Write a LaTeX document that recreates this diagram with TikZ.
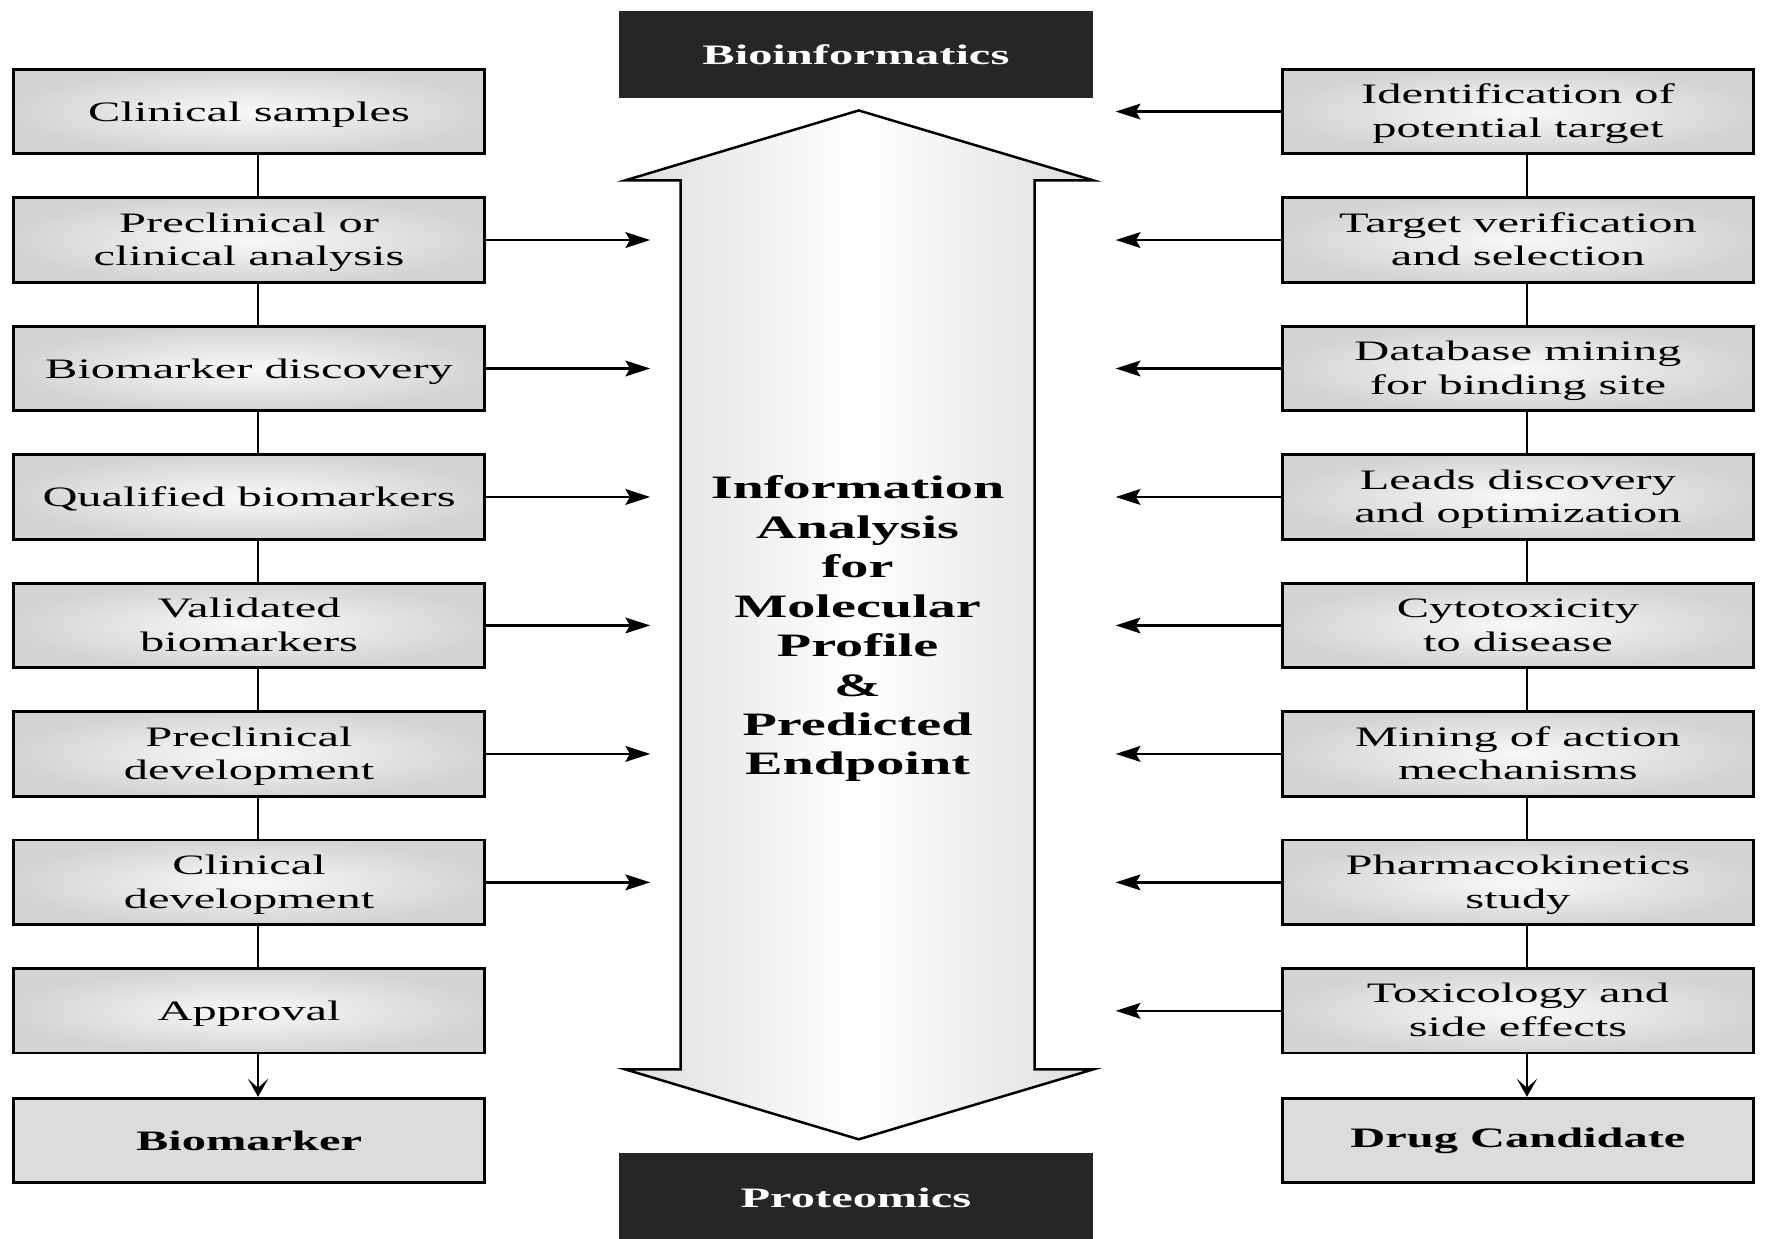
\documentclass[tikz,border=0pt]{standalone}
\usepackage{fontspec}
\setmainfont{Liberation Serif}[FakeStretch=1.72]
\usetikzlibrary{arrows.meta, positioning, calc}
\definecolor{colDark}{RGB}{38,38,38}
\definecolor{colBoxIn}{RGB}{249,249,249}
\definecolor{colBoxOut}{RGB}{212,212,212}
\definecolor{colEnd}{RGB}{220,220,220}
\definecolor{colShaft}{RGB}{222,222,222}

\begin{document}
\begin{tikzpicture}[x=1pt, y=-1pt,
    every node/.style={font=\fontsize{25}{30}\selectfont},
    stage/.style={draw=black, line width=2.4pt, inner color=colBoxIn, outer color=colBoxOut,
        minimum width=418pt, minimum height=75pt, align=center, inner sep=0pt,
        text height=23pt, text depth=6pt},
    twoline/.style={text height=52pt},
    result/.style={draw=black, line width=2.4pt, fill=colEnd, minimum width=418pt,
        minimum height=75pt, font=\fontsize{25}{30}\selectfont\bfseries},
    darkbox/.style={fill=colDark, text=white, minimum width=421pt, minimum height=77pt,
        font=\fontsize{25}{30}\selectfont\bfseries},
    link/.style={line width=2.2pt},
    feed/.style={line width=2pt, -{Stealth[length=22pt,width=14pt,inset=4pt]}},
    down/.style={line width=2.2pt, -{Stealth[length=16pt,width=18pt,inset=8pt]}}]
    \useasboundingbox (0,0) rectangle (1568,1099);

    % --- Kotak atas dan bawah ---
    \node[darkbox] (bioinf) at (759.5,48.5) {Bioinformatics};
    \node[darkbox, minimum height=79pt] (prot) at (759.5,1063) {Proteomics};

    % --- Panah besar dua arah ---
    \draw[line width=2.2pt, left color=colShaft, right color=colShaft, middle color=white]
        (762,98) -- (970,160) -- (918,160) -- (918,949) -- (970,949) -- (762,1011)
        -- (555,949) -- (604,949) -- (604,160) -- (555,160) -- cycle;
    \node[font=\fontsize{29}{35}\selectfont\bfseries, align=center] (info) at (761,558)
        {Information\\Analysis\\for\\Molecular\\Profile\\\&\\Predicted\\Endpoint};

    % --- Kolom kiri: biomarker ---
    \node[stage] (clin) at (221,99) {Clinical samples};
    \node[stage, twoline] (pre) at (221,213) {Preclinical or\\clinical analysis};
    \node[stage] (disc) at (221,327) {Biomarker discovery};
    \node[stage] (qual) at (221,441) {Qualified biomarkers};
    \node[stage, twoline] (valid) at (221,555) {Validated\\biomarkers};
    \node[stage, twoline] (predev) at (221,669) {Preclinical\\development};
    \node[stage, twoline] (clindev) at (221,783) {Clinical\\development};
    \node[stage] (appr) at (221,897) {Approval};
    \node[result] (bmk) at (221,1012) {Biomarker};

    % --- Kolom kanan: kandidat obat ---
    \node[stage, twoline] (ident) at (1347,99) {Identification of\\potential target};
    \node[stage, twoline] (verif) at (1347,213) {Target verification\\and selection};
    \node[stage, twoline] (mine) at (1347,327) {Database mining\\for binding site};
    \node[stage, twoline] (leads) at (1347,441) {Leads discovery\\and optimization};
    \node[stage, twoline] (cyto) at (1347,555) {Cytotoxicity\\to disease};
    \node[stage, twoline] (mech) at (1347,669) {Mining of action\\mechanisms};
    \node[stage, twoline] (pk) at (1347,783) {Pharmacokinetics\\study};
    \node[stage, twoline] (tox) at (1347,897) {Toxicology and\\side effects};
    \node[result] (drug) at (1347,1012) {Drug Candidate};

    % --- Garis penghubung ---
    \draw[link] ([xshift=8pt]clin.south) -- ([xshift=8pt]pre.north);
    \draw[link] ([xshift=8pt]pre.south) -- ([xshift=8pt]disc.north);
    \draw[link] ([xshift=8pt]disc.south) -- ([xshift=8pt]qual.north);
    \draw[link] ([xshift=8pt]qual.south) -- ([xshift=8pt]valid.north);
    \draw[link] ([xshift=8pt]valid.south) -- ([xshift=8pt]predev.north);
    \draw[link] ([xshift=8pt]predev.south) -- ([xshift=8pt]clindev.north);
    \draw[link] ([xshift=8pt]clindev.south) -- ([xshift=8pt]appr.north);
    \draw[down] ([xshift=8pt]appr.south) -- ([xshift=8pt]bmk.north);
    \draw[link] ([xshift=8pt]ident.south) -- ([xshift=8pt]verif.north);
    \draw[link] ([xshift=8pt]verif.south) -- ([xshift=8pt]mine.north);
    \draw[link] ([xshift=8pt]mine.south) -- ([xshift=8pt]leads.north);
    \draw[link] ([xshift=8pt]leads.south) -- ([xshift=8pt]cyto.north);
    \draw[link] ([xshift=8pt]cyto.south) -- ([xshift=8pt]mech.north);
    \draw[link] ([xshift=8pt]mech.south) -- ([xshift=8pt]pk.north);
    \draw[link] ([xshift=8pt]pk.south) -- ([xshift=8pt]tox.north);
    \draw[down] ([xshift=8pt]tox.south) -- ([xshift=8pt]drug.north);

    % --- Panah ke tengah ---
    \coordinate (tipL) at (577,0);
    \coordinate (tipR) at (990,0);
    \draw[feed] (pre.east) -- (pre.east -| tipL);
    \draw[feed] (disc.east) -- (disc.east -| tipL);
    \draw[feed] (qual.east) -- (qual.east -| tipL);
    \draw[feed] (valid.east) -- (valid.east -| tipL);
    \draw[feed] (predev.east) -- (predev.east -| tipL);
    \draw[feed] (clindev.east) -- (clindev.east -| tipL);
    \draw[feed] (ident.west) -- (ident.west -| tipR);
    \draw[feed] (verif.west) -- (verif.west -| tipR);
    \draw[feed] (mine.west) -- (mine.west -| tipR);
    \draw[feed] (leads.west) -- (leads.west -| tipR);
    \draw[feed] (cyto.west) -- (cyto.west -| tipR);
    \draw[feed] (mech.west) -- (mech.west -| tipR);
    \draw[feed] (pk.west) -- (pk.west -| tipR);
    \draw[feed] (tox.west) -- (tox.west -| tipR);
\end{tikzpicture}
\end{document}
